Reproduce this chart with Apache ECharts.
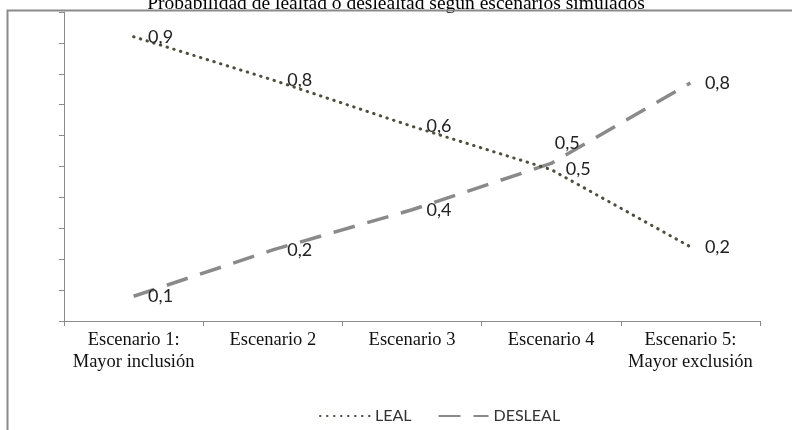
<!DOCTYPE html>
<html><head><meta charset="utf-8">
<script src="https://cdn.jsdelivr.net/npm/echarts@6/dist/echarts.min.js"></script>
<style>html,body{margin:0;padding:0;background:#fff}#c{width:792px;height:430px}</style>
</head><body><div id="c"></div>
<script>
const categories = ['Escenario 1:\nMayor inclusión', 'Escenario 2', 'Escenario 3', 'Escenario 4', 'Escenario 5:\nMayor exclusión'];
const leal = [0.92, 0.78, 0.63, 0.49, 0.24];
const desleal = [0.08, 0.23, 0.36, 0.51, 0.77];
const yTicks = [0, 1, 0.1];

const fmt = p => (Math.round(p.value * 10) / 10).toFixed(1).replace('.', ',');
const labelBase = { show: true, position: 'right', distance: 14, fontFamily: 'Lato', fontSize: 18, color: '#222', formatter: fmt };

const chart = echarts.init(document.getElementById('c'), null, { renderer: 'canvas' });
chart.setOption({
  animation: false,
  title: { text: 'Probabilidad de lealtad o deslealtad según escenarios simulados', left: 'center', top: -11,
    textStyle: { fontFamily: 'Liberation Serif', fontSize: 19.5, fontWeight: 'normal', color: '#000' } },
  graphic: [{ type: 'polyline', shape: { points: [[7.5, 430], [7.5, 10.5], [792, 10.5]] }, style: { stroke: '#8a8a8a', lineWidth: 2, fill: null }, silent: true, z: 100 }],
  grid: { left: 64, right: 32, top: 12, bottom: 109 },
  legend: { top: 403, left: 314, itemWidth: 50, itemHeight: 12, itemGap: 26,
    itemStyle: { opacity: 0 },
    textStyle: { fontFamily: 'Lato', fontSize: 16, color: '#333' },
    data: ['LEAL', 'DESLEAL'] },
  xAxis: { type: 'category', data: categories, boundaryGap: true,
    axisLine: { lineStyle: { color: '#8a8a8a', width: 1 } },
    axisTick: { show: true, length: 5, interval: 0, lineStyle: { color: '#8a8a8a' } },
    axisLabel: { interval: 0, fontFamily: 'Liberation Serif', fontSize: 18.5, color: '#111', lineHeight: 22, margin: 8 } },
  yAxis: { type: 'value', min: yTicks[0], max: yTicks[1], interval: yTicks[2],
    axisLine: { show: true, lineStyle: { color: '#8a8a8a', width: 1 } },
    axisTick: { show: true, length: 5, lineStyle: { color: '#8a8a8a' } },
    axisLabel: { show: false }, splitLine: { show: false } },
  series: [
    { name: 'LEAL', type: 'line', data: leal, symbol: 'circle', symbolSize: 1, z: 3,
      lineStyle: { color: '#4d4e3e', width: 3, type: [0.5, 6.5], cap: 'round' },
      itemStyle: { color: 'rgba(0,0,0,0)', borderWidth: 0 },
      label: labelBase },
    { name: 'DESLEAL', type: 'line', data: desleal.map((v, i) => i === 3 ? { value: v, label: { position: 'top', offset: [16, 3] } } : v),
      symbol: 'circle', symbolSize: 1, z: 2,
      lineStyle: { color: '#8a8a8a', width: 3.5, type: [22, 13] },
      itemStyle: { color: 'rgba(0,0,0,0)', borderWidth: 0 },
      label: labelBase }
  ]
});
</script></body></html>
